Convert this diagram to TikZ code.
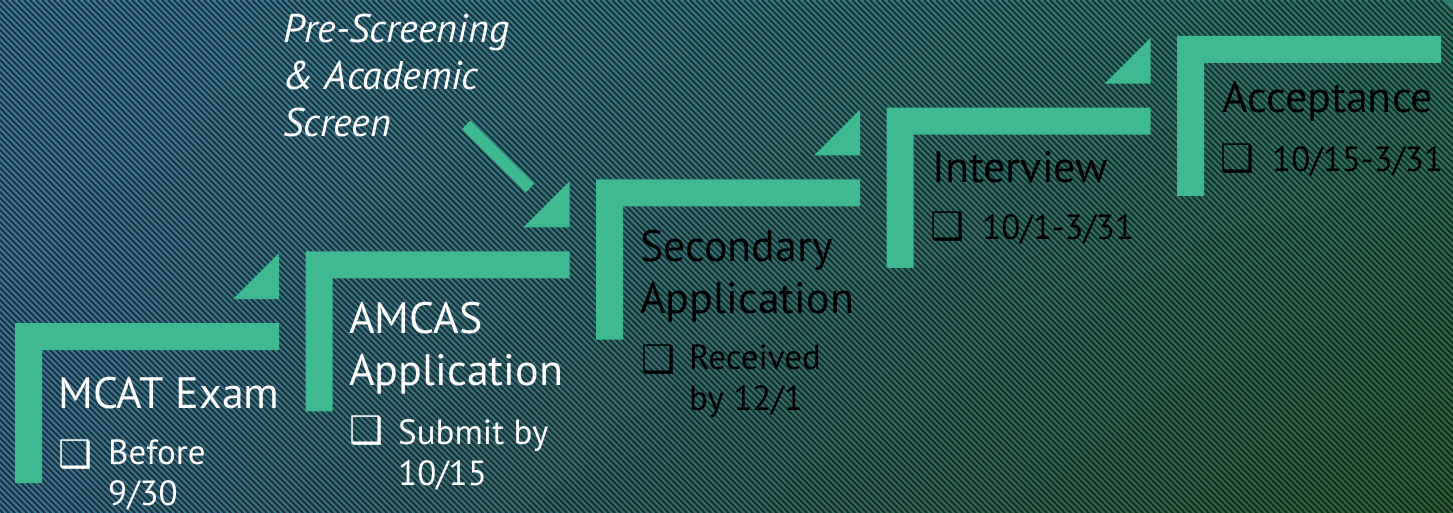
\documentclass[tikz,border=0pt]{standalone}
\usepackage{fontspec}
\setmainfont{PT Sans}
\newfontfamily\boxfont{DejaVu Sans}
\usetikzlibrary{positioning,calc,shadings}
\definecolor{stepgreen}{RGB}{62,185,146}
\definecolor{bgblue}{RGB}{64,130,166}
\definecolor{bgbluelow}{RGB}{62,122,156}
\definecolor{bgteal}{RGB}{48,126,108}
\definecolor{bggreen}{RGB}{50,106,52}
\definecolor{stripedark}{RGB}{10,20,24}

\begin{document}
\begin{tikzpicture}[x=1pt, y=-1pt,
    title/.style={anchor=base west, align=left, inner sep=0pt,
        font=\fontsize{44}{52}\selectfont},
    itemtext/.style={anchor=base west, align=left, inner sep=0pt,
        font=\fontsize{35}{41}\selectfont},
    itembox/.style={anchor=base west, inner sep=0pt,
        font=\boxfont\fontsize{38}{38}\selectfont},
    note/.style={anchor=base west, align=left, inner sep=0pt,
        font=\fontsize{40}{47}\selectfont\itshape},
    bracket/.style={fill=stepgreen},
    pointer/.style={draw=stepgreen, line width=12pt}
]
\useasboundingbox (0,0) rectangle (1453,513);

% background
\shade[upper left=bgblue, lower left=bgbluelow, upper right=bgteal,
    lower right=bggreen] (0,0) rectangle (1453,513);
\begin{scope}
    \clip (0,0) rectangle (1453,513);
    \foreach \k in {-85,...,240}
        \draw[stripedark, line width=2.2pt, opacity=0.68] (\k*6,0) -- ++(513,513);
\end{scope}

% steps
\foreach \i in {0,...,4} {
    \pgfmathsetmacro\bx{15+290.5*\i}
    \pgfmathsetmacro\by{323-71.75*\i}
    \coordinate (corner\i) at (\bx,\by);
    \fill[bracket] (corner\i) -- ++(264,0) -- ++(0,27) -- ++(-237,0)
        -- ++(0,133) -- ++(-27,0) -- cycle;
    \ifnum\i<4
        \fill[bracket] ($(corner\i)+(264,-24)$) -- ++(0,-46) -- ++(-46,46) -- cycle;
    \fi
}

% step texts (base = last line)
\node[title, text=white] (mcat) at (58,408) {MCAT Exam};
\node[itembox, text=white] (mcat-box) at (58,467) {❑};
\node[itemtext, text=white] (mcat-date) at (108,505) {Before\\9/30};

\node[title, text=white] (amcas) at (349,385) {AMCAS\\Application};
\node[itembox, text=white] (amcas-box) at (349,443) {❑};
\node[itemtext, text=white] (amcas-date) at (398,485) {Submit by\\10/15};

\node[title, text=black] (secondary) at (640,313) {Secondary\\Application};
\node[itembox, text=black] (secondary-box) at (641,372) {❑};
\node[itemtext, text=black] (secondary-date) at (689,410) {Received\\by 12/1};

\node[title, text=black] (interview) at (932,183) {Interview};
\node[itembox, text=black] (interview-box) at (930,240) {❑};
\node[itemtext, text=black] (interview-date) at (982,240) {10/1-3/31};

\node[title, text=black] (acceptance) at (1222,113) {Acceptance};
\node[itembox, text=black] (acceptance-box) at (1220,172) {❑};
\node[itemtext, text=black] (acceptance-date) at (1272,172) {10/15-3/31};

% pre-screening note
\node[note, text=white] (prescreen) at (283,137) {Pre-Screening\\\& Academic\\Screen};
\coordinate (ps-tail) at (466,125);
\coordinate (ps-head) at (530,188);
\draw[pointer] (ps-tail) -- (ps-head);

\end{tikzpicture}
\end{document}
